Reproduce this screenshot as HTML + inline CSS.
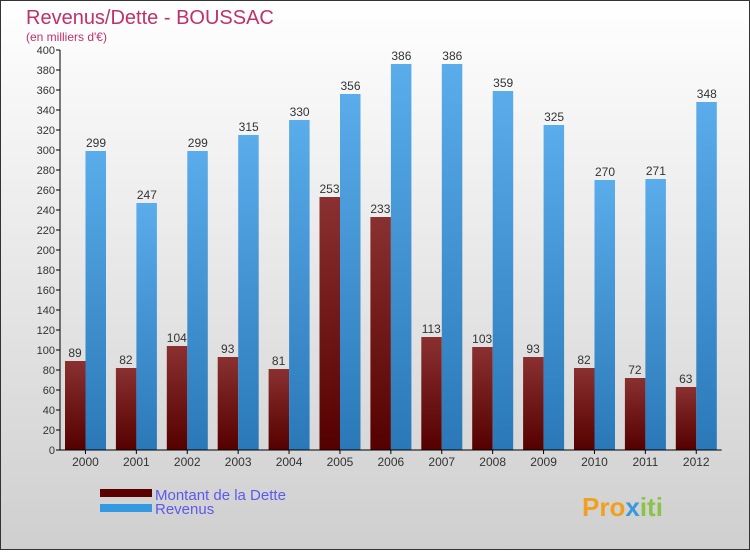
<!DOCTYPE html>
<html><head><meta charset="utf-8"><style>
body{margin:0;width:750px;height:550px;overflow:hidden;font-family:"Liberation Sans",sans-serif}
</style></head><body>
<svg width="750" height="550" xmlns="http://www.w3.org/2000/svg">
<defs>
<linearGradient id="bg" x1="0" y1="0" x2="0" y2="1"><stop offset="0" stop-color="#ffffff"/><stop offset="1" stop-color="#cfcfcf"/></linearGradient>
<linearGradient id="gd" x1="0" y1="0" x2="0" y2="1"><stop offset="0" stop-color="#8a3030"/><stop offset="1" stop-color="#550000"/></linearGradient>
<linearGradient id="gr" x1="0" y1="0" x2="0" y2="1"><stop offset="0" stop-color="#5aaceb"/><stop offset="1" stop-color="#2a78b8"/></linearGradient>
</defs>
<rect x="0.5" y="0.5" width="749" height="549" fill="url(#bg)" stroke="#333"/>
<text x="26" y="24" font-size="20" fill="#c0306a">Revenus/Dette - BOUSSAC</text>
<text x="26" y="41" font-size="12" fill="#c0306a">(en milliers d'€)</text>
<g id="plot"></g>
<g>
<rect x="100" y="489" width="52" height="8" fill="#5a0000"/>
<text x="155" y="500" font-size="15" fill="#5a5af0">Montant de la Dette</text>
<rect x="100" y="504" width="52" height="8" fill="#3399e0"/>
<text x="155" y="514" font-size="15" fill="#5a5af0">Revenus</text>
</g>
<text x="582" y="516" font-size="26" font-weight="bold" fill="#f0a020">Pro<tspan fill="#3a9ad9">x</tspan><tspan fill="#8bc34a">iti</tspan></text>
</svg>
<script>
const years=["2000","2001","2002","2003","2004","2005","2006","2007","2008","2009","2010","2011","2012"];
const dette=[89,82,104,93,81,253,233,113,103,93,82,72,63];
const revenus=[299,247,299,315,330,356,386,386,359,325,270,271,348];
const yTicks=[0,20,40,60,80,100,120,140,160,180,200,220,240,260,280,300,320,340,360,380,400];
const NS="http://www.w3.org/2000/svg";
const g=document.getElementById('plot');
const x0=60,band=50.9,yTop=50,bot=450,ymax=400;
const y=v=>bot-(v/ymax)*(bot-yTop);
function mk(t,a){const e=document.createElementNS(NS,t);for(const k in a)e.setAttribute(k,a[k]);g.appendChild(e);return e;}
yTicks.forEach(v=>{
 const l=mk('line',{x1:x0-4,x2:x0,y1:y(v),y2:y(v),stroke:'#000'});
 
 
 const t=mk('text',{x:x0-5,y:y(v)+4,'font-size':11,'text-anchor':'end',fill:'#333'});t.textContent=v;
 
 
});
years.forEach((yr,i)=>{
 const bx=x0+i*band+5;
 const d=mk('rect',{x:bx,y:y(dette[i]),width:20.5,height:bot-y(dette[i]),fill:'url(#gd)'});
 
 
 const r=mk('rect',{x:bx+20.5,y:y(revenus[i]),width:20.5,height:bot-y(revenus[i]),fill:'url(#gr)'});
 
 
 const td=mk('text',{x:bx+10,y:y(dette[i])-4,'font-size':12,'text-anchor':'middle',fill:'#333'});td.textContent=dette[i];
 
 
 const tr=mk('text',{x:bx+31,y:y(revenus[i])-4,'font-size':12,'text-anchor':'middle',fill:'#333'});tr.textContent=revenus[i];
 
 
 const tk=mk('line',{x1:x0+(i+0.5)*band,x2:x0+(i+0.5)*band,y1:bot,y2:bot+4,stroke:'#000'});
 
 
 const tx=mk('text',{x:x0+(i+0.5)*band,y:bot+16,'font-size':12,'text-anchor':'middle',fill:'#333'});tx.textContent=yr;
 
 
});
const ax=mk('line',{x1:x0,x2:x0,y1:yTop,y2:bot,stroke:'#000'});


const axx=mk('line',{x1:x0,x2:x0+13*band,y1:bot,y2:bot,stroke:'#000'});


</script>
</body></html>
